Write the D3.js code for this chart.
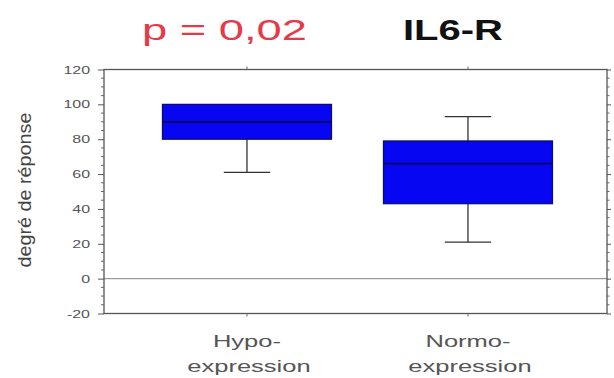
<!DOCTYPE html>
<html>
<head>
<meta charset="utf-8">
<script src="https://cdn.jsdelivr.net/npm/d3@7"></script>
<style>
  html, body { margin: 0; padding: 0; background: #fff; }
  svg { display: block; }
  text { font-family: "Liberation Sans", Arial, sans-serif; }
</style>
</head>
<body>
<svg id="chart" width="614" height="378"></svg>
<script>
// ---- data ----
const categories = ["Hypo-expression", "Normo-expression"];
const categoryLines = [["Hypo-", "expression"], ["Normo-", "expression"]];
const whiskerLow = [61, 21];
const q1 = [80, 43];
const median = [90, 66];
const q3 = [100, 79];
const whiskerHigh = [100, 93];
const yTicks = [-20, 0, 20, 40, 60, 80, 100, 120];
const pValueText = "p = 0,02";
const titleText = "IL6-R";
const yLabel = "degré de réponse";

// ---- layout ----
const svg = d3.select("#chart");
const pLeft = 104, pRight = 607, pTop = 69.5, pBottom = 313.5;

const y = d3.scaleLinear().domain([-20, 120]).range([pBottom, pTop]);
const x = d3.scalePoint().domain(categories).range([pLeft, pRight]).padding(0.638).align(0.507);
const step = x.step();
const boxW = step * 0.765;
const capW = step * 0.21;

// zero reference line
svg.append("line")
  .attr("x1", pLeft).attr("x2", pRight)
  .attr("y1", y(0)).attr("y2", y(0))
  .attr("stroke", "#9a9a9a").attr("stroke-width", 1.2);

// frame
svg.append("rect")
  .attr("x", pLeft).attr("y", pTop)
  .attr("width", pRight - pLeft).attr("height", pBottom - pTop)
  .attr("fill", "none").attr("stroke", "#555").attr("stroke-width", 1.3);

// left axis
const leftAxis = d3.axisLeft(y).tickValues(yTicks).tickSize(6).tickPadding(8).tickFormat(d => String(d));
const gl = svg.append("g").attr("transform", `translate(${pLeft},0)`).call(leftAxis);
gl.select(".domain").remove();
gl.selectAll(".tick line").attr("stroke", "#555");
gl.selectAll(".tick text")
  .attr("fill", "#555").attr("font-size", 11)
  .attr("font-family", "Liberation Sans, Arial, sans-serif")
  .each(function() {
    const w = this.getComputedTextLength();
    d3.select(this).attr("textLength", w * 1.45).attr("lengthAdjust", "spacingAndGlyphs");
  });
// minor ticks left
const minor = d3.range(-20, 121, 5).filter(v => v % 20 !== 0);
svg.append("g").selectAll("line").data(minor).join("line")
  .attr("x1", pLeft - 3).attr("x2", pLeft)
  .attr("y1", d => y(d)).attr("y2", d => y(d))
  .attr("stroke", "#666");

// right axis ticks
const rightAxis = d3.axisRight(y).tickValues(yTicks).tickSize(4).tickFormat("");
const gr = svg.append("g").attr("transform", `translate(${pRight},0)`).call(rightAxis);
gr.select(".domain").remove();
gr.selectAll(".tick line").attr("stroke", "#555");
svg.append("g").selectAll("line").data(minor).join("line")
  .attr("x1", pRight).attr("x2", pRight + 2.5)
  .attr("y1", d => y(d)).attr("y2", d => y(d))
  .attr("stroke", "#666");

// top/bottom category ticks
svg.append("g").selectAll("line").data(categories).join("line")
  .attr("x1", d => x(d)).attr("x2", d => x(d))
  .attr("y1", pTop - 3).attr("y2", pTop)
  .attr("stroke", "#666");
svg.append("g").selectAll("line").data(categories).join("line")
  .attr("x1", d => x(d)).attr("x2", d => x(d))
  .attr("y1", pBottom).attr("y2", pBottom + 3)
  .attr("stroke", "#666");

// boxes
const boxes = svg.append("g").selectAll("g").data(categories).join("g");
// whiskers
boxes.append("line")
  .attr("x1", d => x(d)).attr("x2", d => x(d))
  .attr("y1", (d, i) => y(whiskerLow[i])).attr("y2", (d, i) => y(q1[i]))
  .attr("stroke", "#333").attr("stroke-width", 1.3);
boxes.append("line")
  .attr("x1", d => x(d)).attr("x2", d => x(d))
  .attr("y1", (d, i) => y(whiskerHigh[i])).attr("y2", (d, i) => y(q3[i]))
  .attr("stroke", "#333").attr("stroke-width", 1.3);
// caps
boxes.append("line")
  .attr("x1", d => x(d) - capW / 2).attr("x2", d => x(d) + capW / 2)
  .attr("y1", (d, i) => y(whiskerLow[i])).attr("y2", (d, i) => y(whiskerLow[i]))
  .attr("stroke", "#333").attr("stroke-width", 1.3);
boxes.filter((d, i) => whiskerHigh[i] > q3[i]).append("line")
  .attr("x1", d => x(d) - capW / 2).attr("x2", d => x(d) + capW / 2)
  .attr("y1", d => y(whiskerHigh[categories.indexOf(d)])).attr("y2", d => y(whiskerHigh[categories.indexOf(d)]))
  .attr("stroke", "#333").attr("stroke-width", 1.3);
// box rect
boxes.append("rect")
  .attr("x", d => x(d) - boxW / 2)
  .attr("width", boxW)
  .attr("y", (d, i) => y(q3[i]))
  .attr("height", (d, i) => y(q1[i]) - y(q3[i]))
  .attr("fill", "#0606f2").attr("stroke", "#0c0c60").attr("stroke-width", 1.2);
// median
boxes.append("line")
  .attr("x1", d => x(d) - boxW / 2).attr("x2", d => x(d) + boxW / 2)
  .attr("y1", (d, i) => y(median[i])).attr("y2", (d, i) => y(median[i]))
  .attr("stroke", "#08085a").attr("stroke-width", 1.8);

// category labels
categories.forEach((c, i) => {
  categoryLines[i].forEach((ln, j) => {
    const t = svg.append("text")
      .attr("x", x(c) + (j === 0 ? 0 : 2))
      .attr("y", 347 + j * 25)
      .attr("text-anchor", "middle")
      .attr("font-size", 17)
      .attr("fill", "#555")
      .text(ln);
    const w = t.node().getComputedTextLength();
    t.attr("textLength", w * 1.5).attr("lengthAdjust", "spacingAndGlyphs");
  });
});

// y label
const yl = svg.append("text")
  .attr("transform", `translate(31,190) rotate(-90)`)
  .attr("text-anchor", "middle")
  .attr("font-size", 17.5)
  .attr("fill", "#444")
  .text(yLabel);
yl.attr("textLength", 155).attr("lengthAdjust", "spacingAndGlyphs");

// titles
svg.append("text")
  .attr("x", 142).attr("y", 40)
  .attr("font-size", 30)
  .attr("fill", "#e53a48")
  .attr("textLength", 165).attr("lengthAdjust", "spacingAndGlyphs")
  .text(pValueText);
svg.append("text")
  .attr("x", 403).attr("y", 40)
  .attr("font-size", 30)
  .attr("font-weight", "bold")
  .attr("fill", "#111")
  .attr("textLength", 100).attr("lengthAdjust", "spacingAndGlyphs")
  .text(titleText);
</script>
</body>
</html>
